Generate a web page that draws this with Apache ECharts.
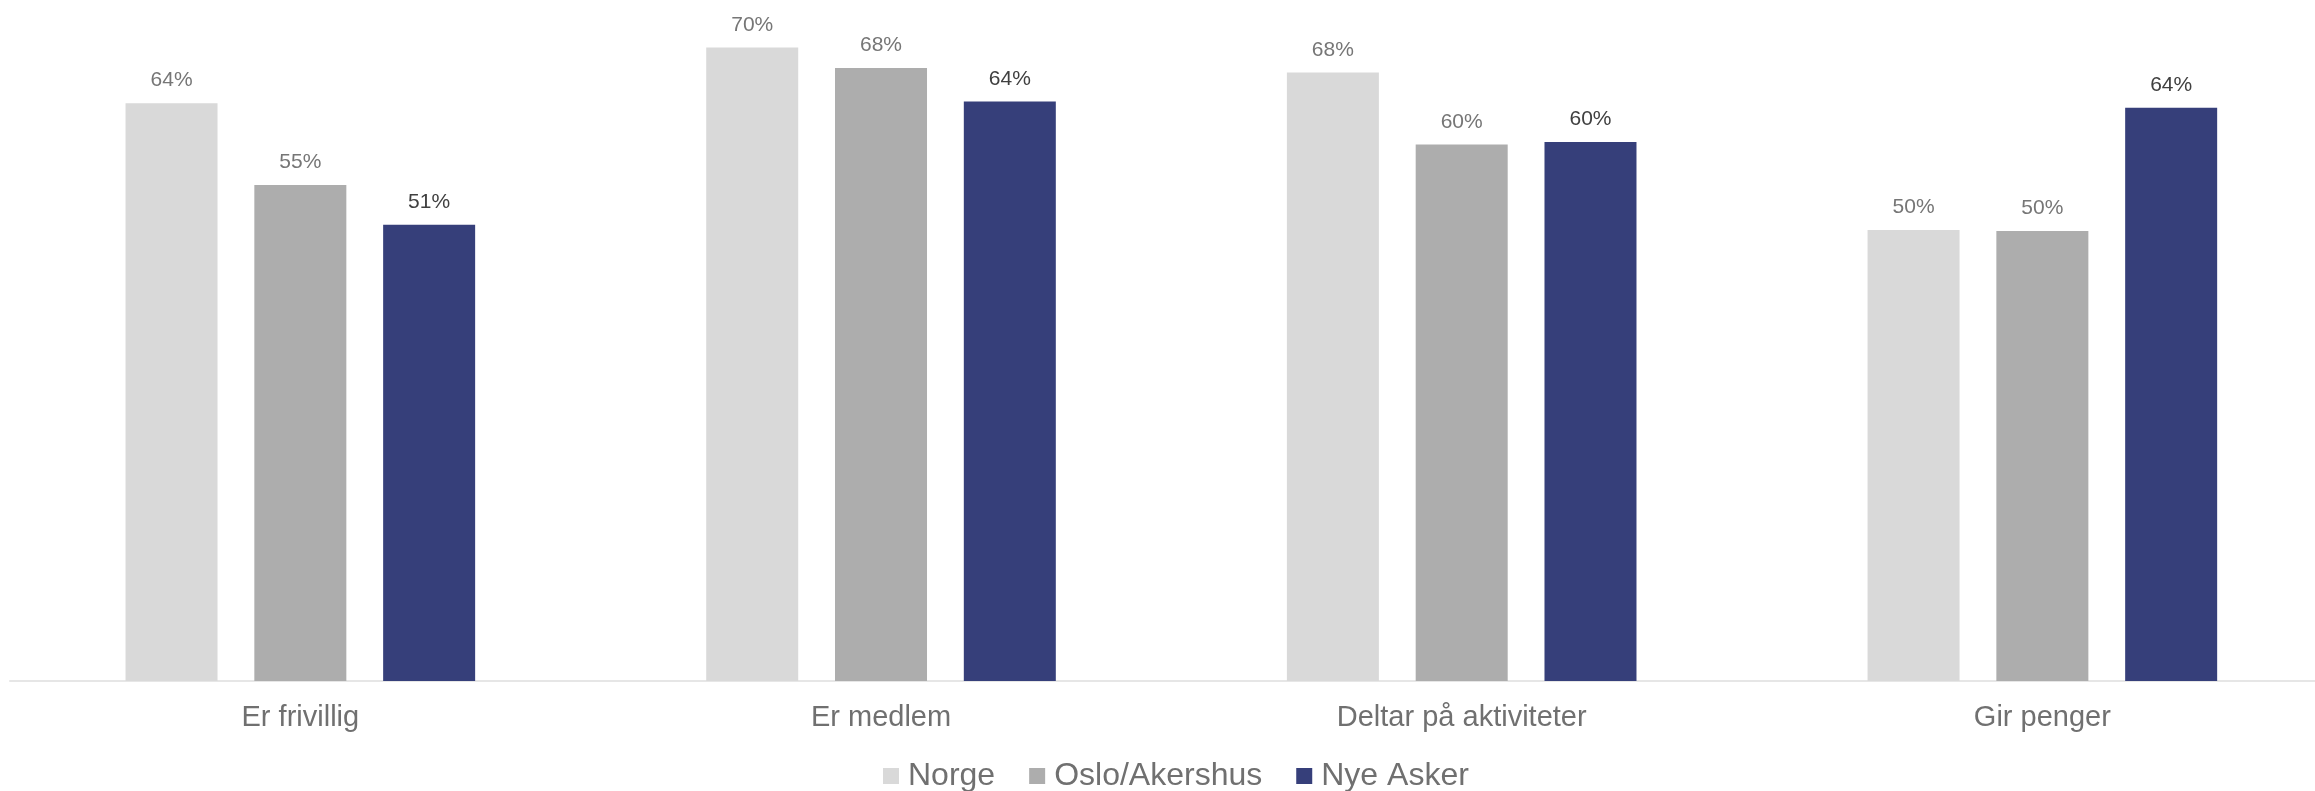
<!DOCTYPE html>
<html>
<head>
<meta charset="utf-8">
<script src="https://cdn.jsdelivr.net/npm/echarts@6/dist/echarts.min.js"></script>
<style>
html,body{margin:0;padding:0;background:#fff;}
#chart{width:2315px;height:791px;}
</style>
</head>
<body>
<div id="chart"></div>
<script>
const categories = ["Er frivillig", "Er medlem", "Deltar på aktiviteter", "Gir penger"];
const seriesNames = ["Norge", "Oslo/Akershus", "Nye Asker"];
const norge = [64.2, 70.4, 67.6, 50.1];
const osloAkershus = [55.1, 68.1, 59.6, 50.0];
const nyeAsker = [50.7, 64.4, 59.9, 63.7];
const colors = ["#d9d9d9", "#adadad", "#363f7a"];
const labelColors = ["#767676", "#767676", "#404040"];

const chart = echarts.init(document.getElementById('chart'));
const values = [norge, osloAkershus, nyeAsker];
const fontFamily = 'Liberation Sans, Arial, sans-serif';

chart.setOption({
  animation: false,
  backgroundColor: '#ffffff',
  grid: { left: 10, top: 6, width: 2322.7, bottom: 110, containLabel: false, outerBoundsMode: 'none' },
  legend: {
    left: 878,
    top: 755,
    itemWidth: 16,
    itemHeight: 16,
    itemGap: 34,
    icon: 'rect',
    textStyle: { fontSize: 32, color: '#707070', fontFamily: fontFamily, padding: [0, 0, 0, 4] },
    data: seriesNames
  },
  xAxis: {
    type: 'category',
    data: categories,
    axisLine: { show: true, lineStyle: { color: '#e6e6e6', width: 2 } },
    axisTick: { show: false },
    axisLabel: { fontSize: 29, color: '#707070', fontFamily: fontFamily, margin: 22 }
  },
  yAxis: {
    type: 'value',
    min: 0,
    max: 75,
    show: false,
    splitLine: { show: false }
  },
  series: seriesNames.map((name, i) => ({
    name: name,
    type: 'bar',
    data: values[i],
    barWidth: 92,
    barGap: '40%',
    itemStyle: { color: colors[i] },
    label: {
      show: true,
      position: 'top',
      distance: 12,
      fontSize: 21,
      fontFamily: fontFamily,
      color: labelColors[i],
      formatter: p => Math.round(p.value) + '%'
    }
  }))
});
</script>
</body>
</html>
